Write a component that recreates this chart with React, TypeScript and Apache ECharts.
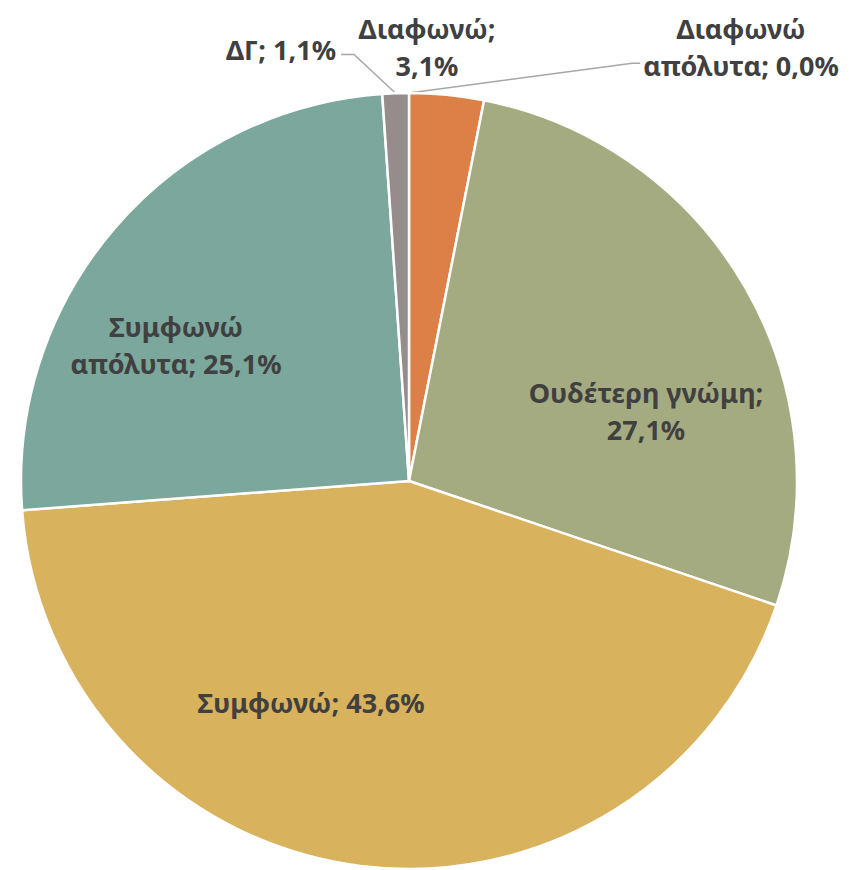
import React, { useEffect, useRef } from "react";
import * as echarts from "echarts";

// Data
const categories = ["Διαφωνώ απόλυτα", "Διαφωνώ", "Ουδέτερη γνώμη", "Συμφωνώ", "Συμφωνώ απόλυτα", "ΔΓ"];
const values = [0.0, 3.1, 27.1, 43.6, 25.1, 1.1];

// Styling
const colors = ["#94B6D2", "#DD8047", "#A5AB81", "#D8B25C", "#7BA79D", "#968C8C"];
// how each label wraps: 'name' = break inside name, 'sep' = break after ';', 'none'
const wrapModes = ["name", "sep", "sep", "none", "name", "none"];
const labelInside = [false, false, true, true, true, false];
const labelHasLine = [true, false, false, false, false, true];
// label centres (pixels)
const labelPos: [number, number][] = [
  [741, 47],
  [427, 47],
  [646, 411],
  [311, 702],
  [176, 345],
  [281, 49],
];

const CX = 409;
const CY = 481;
const R = 388;

function fmt(name: string, v: number, mode: string) {
  const pct = v.toFixed(1).replace(".", ",") + "%";
  if (mode === "sep") return `${name};\n${pct}`;
  if (mode === "name") {
    const i = name.indexOf(" ");
    return `${name.slice(0, i)}\n${name.slice(i + 1)}; ${pct}`;
  }
  return `${name}; ${pct}`;
}

export default function App() {
  const ref = useRef<HTMLDivElement>(null);
  useEffect(() => {
    if (!ref.current) return;
    const chart = echarts.init(ref.current, undefined, { renderer: "svg" });
    chart.setOption({
      animation: false,
      backgroundColor: "#ffffff",
      series: [
        {
          type: "pie",
          center: [CX, CY],
          radius: [0, R],
          startAngle: 90,
          clockwise: true,
          avoidLabelOverlap: false,
          itemStyle: { borderColor: "#ffffff", borderWidth: 2.5 },
          label: {
            color: "#404040",
            fontFamily: "Noto Sans",
            fontWeight: "bold",
            fontSize: 27,
            lineHeight: 37,
            align: "center",
            formatter: (p: any) => fmt(p.name, p.value, wrapModes[p.dataIndex]),
          },
          labelLine: {
            show: true,
            lineStyle: { color: "#A6A6A6", width: 1.5 },
          },
          labelLayout: (params: any) => {
            const i = params.dataIndex;
            const [x, y] = labelPos[i];
            const w = params.labelRect.width;
            const h = params.labelRect.height;
            const out: any = { x, y, align: "center", verticalAlign: "middle" };
            if (labelHasLine[i] && params.labelLinePoints) {
              const start = params.labelLinePoints[0];
              if (i === 0) {
                const ex = x - w / 2 - 3;
                const ey = y + h * 0.22;
                out.labelLinePoints = [start, [ex - 8, ey], [ex, ey]];
              } else {
                const ex = x + w / 2 + 5;
                const ey = y + h * 0.15;
                out.labelLinePoints = [start, [ex + 13, ey], [ex, ey]];
              }
            }
            return out;
          },
          data: categories.map((name, i) => ({
            name,
            value: values[i],
            itemStyle: { color: colors[i] },
            label: { position: labelInside[i] ? "inside" : "outside" },
            labelLine: { show: labelHasLine[i] },
          })),
        },
      ],
    });
    return () => chart.dispose();
  }, []);
  return (
    <div
      ref={ref}
      style={{ position: "fixed", left: 0, top: 0, width: 866, height: 870 }}
    />
  );
}
